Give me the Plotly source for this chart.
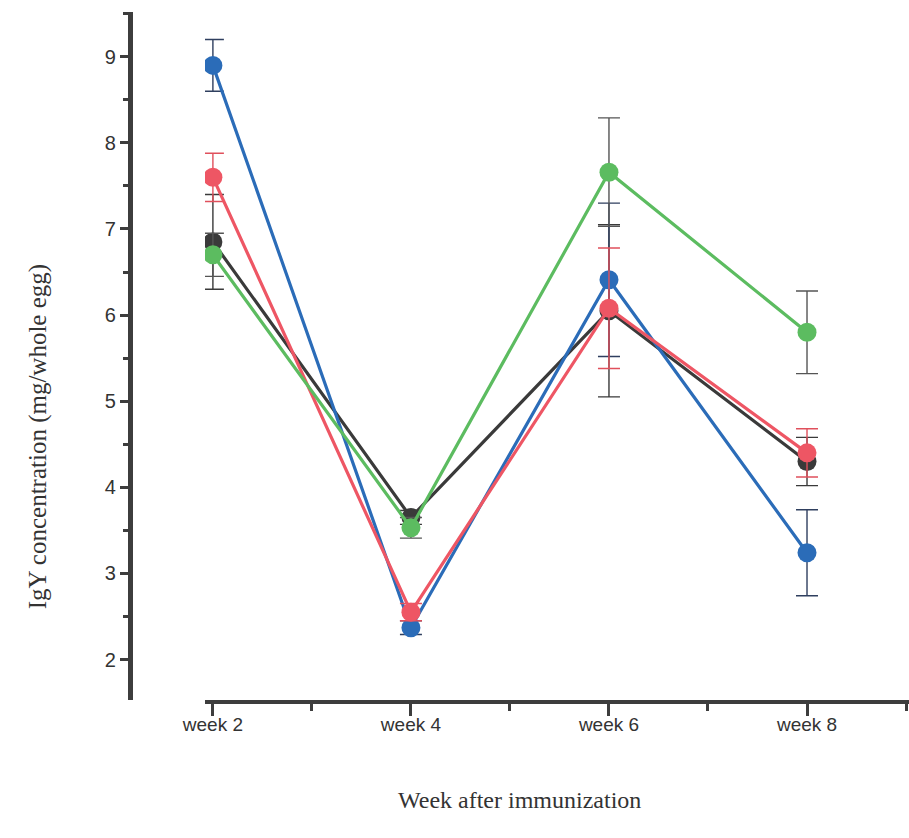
import plotly.graph_objects as go

# Sampling weeks after immunization
weeks = ["week 2", "week 4", "week 6", "week 8"]
x_pos = [0, 1, 2, 3]

# IgY concentration (mg/whole egg), mean and error per group
black_vals = [6.85, 3.65, 6.05, 4.30]
black_err = [0.55, 0.08, 1.00, 0.28]

blue_vals = [8.90, 2.37, 6.41, 3.24]
blue_err = [0.30, 0.08, 0.89, 0.50]

red_vals = [7.60, 2.55, 6.08, 4.40]
red_err = [0.28, 0.10, 0.70, 0.28]

green_vals = [6.70, 3.53, 7.66, 5.80]
green_err = [0.25, 0.12, 0.63, 0.48]

y_ticks = [2, 3, 4, 5, 6, 7, 8, 9]

series = [
    ("black", black_vals, black_err, "#3a3a3a", "#3a3a3a"),
    ("blue", blue_vals, blue_err, "#2b6cb8", "#2f3f5f"),
    ("red", red_vals, red_err, "#ee5664", "#e0505c"),
    ("green", green_vals, green_err, "#5cbc60", "#555555"),
]

fig = go.Figure()
for name, vals, errs, col, ecol in series:
    fig.add_trace(go.Scatter(
        x=x_pos, y=vals, name=name, mode="lines+markers",
        line=dict(color=col, width=3.2),
        marker=dict(color=col, size=19, line=dict(width=0)),
        error_y=dict(type="data", array=errs, visible=True,
                     color=ecol, thickness=1.4, width=11),
        showlegend=False,
    ))

axis_col = "#3d3d3d"
tick_family = "Liberation Sans Narrow, Liberation Sans, Arial"
fig.update_layout(
    width=909, height=838,
    margin=dict(l=0, r=0, t=12, b=138, autoexpand=False),
    paper_bgcolor="white", plot_bgcolor="white",
    xaxis=dict(
        domain=[0.2255, 1.0], range=[-0.04, 3.515], automargin=False,
        tickvals=x_pos, ticktext=weeks,
        showgrid=False, zeroline=False,
        showline=True, linecolor=axis_col, linewidth=4,
        ticks="outside", ticklen=12, tickwidth=3, tickcolor=axis_col,
        ticklabelstandoff=-8,
        minor=dict(tickvals=[0.5, 1.5, 2.5, 3.5], ticks="outside",
                   ticklen=7, tickwidth=3, tickcolor=axis_col),
        tickfont=dict(family=tick_family, size=19, color="#333333"),
    ),
    yaxis=dict(
        anchor="free", position=0.143, automargin=False,
        range=[1.53, 9.52], tickvals=y_ticks,
        showgrid=False, zeroline=False,
        showline=True, linecolor=axis_col, linewidth=5,
        ticks="outside", ticklen=8, tickwidth=3, tickcolor=axis_col,
        minor=dict(dtick=0.5, tick0=1.5, ticks="outside",
                   ticklen=5, tickwidth=3, tickcolor=axis_col),
        tickfont=dict(family=tick_family, size=20, color="#333333"),
    ),
    annotations=[
        dict(text="IgY concentration (mg/whole egg)", xref="paper", yref="paper",
             x=0.042, y=0.382, textangle=-90,
             showarrow=False, xanchor="center", yanchor="middle",
             font=dict(family="Liberation Serif, Times New Roman", size=25,
                       color="#333333")),
        dict(text="Week after immunization", xref="paper", yref="paper",
             x=0.572, y=-0.145, showarrow=False, xanchor="center",
             yanchor="middle",
             font=dict(family="Liberation Serif, Times New Roman", size=24,
                       color="#333333")),
    ],
)

fig.write_html("out.html")
